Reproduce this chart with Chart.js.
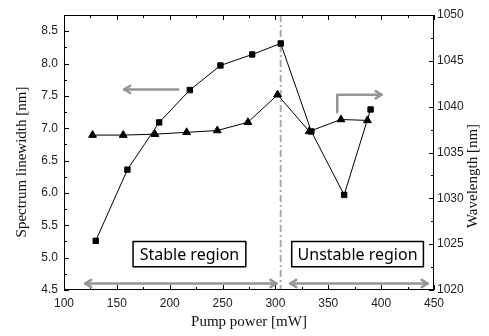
<!DOCTYPE html>
<html>
<head>
<meta charset="utf-8">
<script src="https://cdn.jsdelivr.net/npm/chart.js@4"></script>
<style>
body { margin: 0; background: #fff; }
</style>
</head>
<body>
<canvas id="c" width="489" height="336"></canvas>
<script>
// linewidth (squares, left axis)
const sqPower = [130, 160, 190, 219, 248, 278, 305, 334, 365, 390];
const linewidth = [5.26, 6.36, 7.09, 7.59, 7.97, 8.14, 8.31, 6.95, 5.97, 7.29];

// center wavelength (triangles, right axis)
const triPower = [127, 156, 186, 216, 245, 274, 302, 332, 362, 387];
const wavelength = [1036.9, 1036.9, 1037.0, 1037.2, 1037.4, 1038.3, 1041.3, 1037.3, 1038.6, 1038.5];

const xTicks = [100, 150, 200, 250, 300, 350, 400, 450];
const yTicks = [4.5, 5.0, 5.5, 6.0, 6.5, 7.0, 7.5, 8.0, 8.5];
const y2Ticks = [1020, 1025, 1030, 1035, 1040, 1045, 1050];

const boundary = 305;

const tickFont = { family: "'Liberation Sans', Arial, sans-serif", size: 12 };
const titleFont = "15px 'Liberation Serif', 'Times New Roman', serif";
const gray = "#959595";

function arrowHead(ctx, x, y, dir) {
  // open chevron pointing in direction dir (radians)
  const L = 7;
  ctx.beginPath();
  ctx.moveTo(x + L * Math.cos(dir + 2.6), y + L * Math.sin(dir + 2.6));
  ctx.lineTo(x, y);
  ctx.lineTo(x + L * Math.cos(dir - 2.6), y + L * Math.sin(dir - 2.6));
  ctx.stroke();
}

const decor = {
  id: "decor",
  beforeDatasetsDraw(chart) {
    const { ctx, chartArea: a, scales: { x } } = chart;
    ctx.save();
    ctx.strokeStyle = "#aaaaaa";
    ctx.lineWidth = 2;
    ctx.setLineDash([7, 3, 2, 3]);
    const bx = x.getPixelForValue(boundary);
    ctx.beginPath();
    ctx.moveTo(bx, a.top);
    ctx.lineTo(bx, a.bottom);
    ctx.stroke();
    ctx.restore();
  },
  afterDraw(chart) {
    const { ctx, chartArea: a, scales: { x, y, y2 } } = chart;
    ctx.save();

    // frame
    ctx.strokeStyle = "#000";
    ctx.lineWidth = 1;
    ctx.strokeRect(a.left + 0.5, a.top + 0.5, a.right - a.left - 1, a.bottom - a.top - 1);

    // inward ticks
    ctx.beginPath();
    for (let v = 100; v <= 450; v += 25) {
      const px = Math.round(x.getPixelForValue(v)) + 0.5;
      const len = v % 50 === 0 ? 5 : 3;
      ctx.moveTo(px, a.bottom); ctx.lineTo(px, a.bottom - len);
      ctx.moveTo(px, a.top); ctx.lineTo(px, a.top + len);
    }
    for (let v = 4.5; v <= 8.75; v += 0.25) {
      const py = Math.round(y.getPixelForValue(v)) + 0.5;
      const len = Math.abs(v * 2 - Math.round(v * 2)) < 1e-6 ? 5 : 3;
      ctx.moveTo(a.left, py); ctx.lineTo(a.left + len, py);
    }
    for (let v = 1020; v <= 1050; v += 2.5) {
      const py = Math.round(y2.getPixelForValue(v)) + 0.5;
      const len = v % 5 === 0 ? 5 : 3;
      ctx.moveTo(a.right, py); ctx.lineTo(a.right - len, py);
    }
    ctx.stroke();

    // gray arrows
    ctx.strokeStyle = gray;
    ctx.lineWidth = 2.5;
    ctx.lineCap = "round";
    ctx.lineJoin = "round";

    // left-pointing arrow (linewidth -> left axis)
    let x1 = x.getPixelForValue(208), x2 = x.getPixelForValue(157), ya = y.getPixelForValue(7.6);
    ctx.beginPath(); ctx.moveTo(x1, ya); ctx.lineTo(x2, ya); ctx.stroke();
    arrowHead(ctx, x2, ya, Math.PI);

    // bent arrow (wavelength -> right axis)
    const bxv = x.getPixelForValue(358.5);
    const by1 = y2.getPixelForValue(1039.4), by2 = y2.getPixelForValue(1041.3);
    const bx2 = x.getPixelForValue(400.5);
    ctx.beginPath(); ctx.moveTo(bxv, by1); ctx.lineTo(bxv, by2); ctx.lineTo(bx2, by2); ctx.stroke();
    arrowHead(ctx, bx2, by2, 0);

    // region double arrows
    const yb = y.getPixelForValue(4.6);
    [[120, 301], [314, 444]].forEach(([s, e]) => {
      const ps = x.getPixelForValue(s), pe = x.getPixelForValue(e);
      ctx.beginPath(); ctx.moveTo(ps, yb); ctx.lineTo(pe, yb); ctx.stroke();
      arrowHead(ctx, ps, yb, Math.PI);
      arrowHead(ctx, pe, yb, 0);
    });

    // region boxes
    ctx.lineCap = "butt";
    ctx.strokeStyle = "#000";
    ctx.lineWidth = 1.5;
    ctx.fillStyle = "#000";
    ctx.font = "16px 'Noto Sans', 'DejaVu Sans', sans-serif";
    ctx.textAlign = "center";
    ctx.textBaseline = "middle";
    const top = y.getPixelForValue(5.25), bot = y.getPixelForValue(4.86);
    [[165.3, 272, "Stable region"], [315.4, 440, "Unstable region"]].forEach(([s, e, t]) => {
      const ps = x.getPixelForValue(s), pe = x.getPixelForValue(e);
      ctx.fillStyle = "#fff";
      ctx.fillRect(ps, top, pe - ps, bot - top);
      ctx.strokeRect(ps, top, pe - ps, bot - top);
      ctx.fillStyle = "#000";
      ctx.fillText(t, (ps + pe) / 2, (top + bot) / 2 + 1);
    });

    // y axis titles
    ctx.font = titleFont;
    ctx.fillStyle = "#111";
    ctx.save();
    ctx.translate(22, 162);
    ctx.rotate(-Math.PI / 2);
    ctx.fillText("Spectrum linewidth [nm]", 0, 0);
    ctx.restore();
    ctx.save();
    ctx.translate(473, 176);
    ctx.rotate(-Math.PI / 2);
    ctx.fillText("Wavelength [nm]", 0, 0);
    ctx.restore();

    ctx.restore();
  }
};

new Chart(document.getElementById("c"), {
  type: "line",
  data: {
    datasets: [{
      label: "Spectrum linewidth",
      data: sqPower.map((p, i) => ({ x: p, y: linewidth[i] })),
      yAxisID: "y",
      borderColor: "#000",
      backgroundColor: "#000",
      borderWidth: 1,
      pointStyle: "rect",
      pointRadius: 3.8,
      pointHoverRadius: 3.8,
      tension: 0
    }, {
      label: "Wavelength",
      data: triPower.map((p, i) => ({ x: p, y: wavelength[i] })),
      yAxisID: "y2",
      borderColor: "#000",
      backgroundColor: "#000",
      borderWidth: 1,
      pointStyle: "triangle",
      pointRadius: 4.5,
      pointHoverRadius: 4.5,
      tension: 0
    }]
  },
  options: {
    responsive: false,
    animation: false,
    devicePixelRatio: 1,
    layout: { padding: { top: 15, left: 0, right: 0, bottom: 0 } },
    plugins: { legend: { display: false }, tooltip: { enabled: false } },
    scales: {
      x: {
        type: "linear",
        min: 100,
        max: 450,
        afterBuildTicks: s => { s.ticks = xTicks.map(v => ({ value: v })); },
        afterFit: s => { s.height = 46; },
        grid: { display: false, drawTicks: false },
        border: { display: false },
        ticks: { font: tickFont, color: "#222", padding: 6, callback: v => String(v) },
        title: {
          display: true,
          text: "Pump power [mW]",
          font: { family: "'Liberation Serif', 'Times New Roman', serif", size: 15 },
          color: "#111",
          padding: { top: 0, bottom: 5 }
        }
      },
      y: {
        position: "left",
        min: 4.5,
        max: 8.75,
        afterBuildTicks: s => { s.ticks = yTicks.map(v => ({ value: v })); },
        afterFit: s => { s.width = 64; },
        grid: { display: false, drawTicks: false },
        border: { display: false },
        ticks: { font: tickFont, color: "#222", padding: 6, callback: v => v.toFixed(1) }
      },
      y2: {
        position: "right",
        min: 1020,
        max: 1050,
        afterBuildTicks: s => { s.ticks = y2Ticks.map(v => ({ value: v })); },
        afterFit: s => { s.width = 55; },
        grid: { display: false, drawTicks: false },
        border: { display: false },
        ticks: { font: tickFont, color: "#222", padding: 3, callback: v => String(v) }
      }
    }
  },
  plugins: [decor]
});
</script>
</body>
</html>
